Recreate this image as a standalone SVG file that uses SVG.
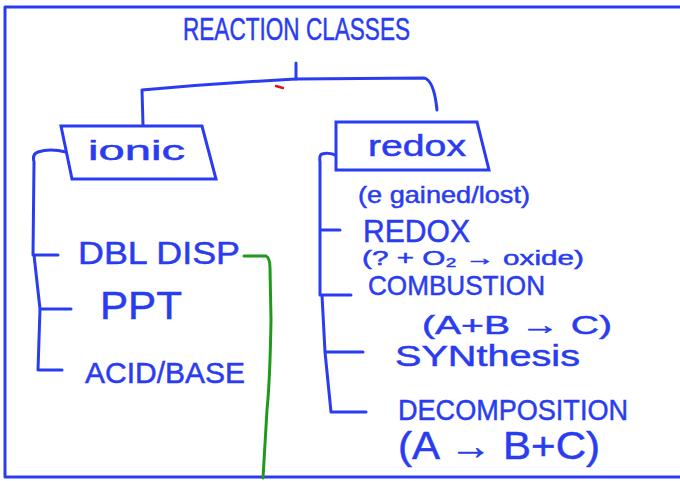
<svg xmlns="http://www.w3.org/2000/svg" width="680" height="481" viewBox="0 0 680 481">
  <style>
    .ink { fill: none; stroke: #2a3cf0; stroke-width: 3; stroke-linecap: round; stroke-linejoin: round; }
    .box { fill: #ffffff; stroke: #2a3cf0; stroke-width: 3; stroke-linejoin: miter; }
    .txt { font-family: "Liberation Sans", Arial, sans-serif; fill: #2a3cf0; stroke: #2a3cf0; stroke-width: 0.5; }
    .green { fill: none; stroke: #1f9a1f; stroke-width: 3; stroke-linecap: round; }
  </style>

  <rect width="680" height="481" fill="#ffffff"/>

  <!-- page frame -->
  <path class="ink" d="M682 7 L5 7 L5 477 L682 477"/>

  <g id="title">
    <text class="txt" x="183" y="40" font-size="32" textLength="227" lengthAdjust="spacingAndGlyphs">REACTION CLASSES</text>
  </g>

  <g id="connectors">
    <!-- trunk from title down to both classes -->
    <path class="ink" d="M296 63 L296 79"/>
    <path class="ink" d="M143 125 L142 90 Q220 83 296 79 L424 78 Q434 80 437 110"/>
    <path d="M276 86 L283 88" stroke="#d21a1a" stroke-width="2.5" stroke-linecap="round"/>
    <!-- ionic bracket -->
    <path class="ink" d="M66 152 Q50 148 38 152 Q32 154 34 162 L33 255 L58 255 M34 255 L40 309 L71 309 M40 309 L38 370 L62 370"/>
    <!-- redox bracket -->
    <path class="ink" d="M337 156 Q330 152 322 154 Q319 155 320 162 L320 295 L351 295 M320 230 L340 230 M322 295 L325 352 L363 352 M325 352 L331 412 L366 412"/>
    <!-- green link from DBL DISP -->
    <path class="green" d="M244 256 L266 256 Q270 258 270 268 L271 320 Q270 380 267 410 L263 478"/>
  </g>

  <g id="ionic">
    <path class="box" d="M61 126 L202 126 L216 179 L72 179 Z"/>
    <text class="txt" x="88" y="160" font-size="28" textLength="97" lengthAdjust="spacingAndGlyphs">ionic</text>
  </g>

  <g id="redox">
    <path class="box" d="M336 122 L477 122 L489 170 L336 170 Z"/>
    <text class="txt" x="368" y="156" font-size="30" textLength="98" lengthAdjust="spacingAndGlyphs">redox</text>
  </g>

  <g id="dbl-disp">
    <text class="txt" x="78" y="264" font-size="32" textLength="162" lengthAdjust="spacingAndGlyphs">DBL DISP</text>
  </g>
  <g id="ppt">
    <text class="txt" x="100" y="319" font-size="38" textLength="82" lengthAdjust="spacingAndGlyphs">PPT</text>
  </g>
  <g id="acid-base">
    <text class="txt" x="85" y="383" font-size="30" textLength="160" lengthAdjust="spacingAndGlyphs">ACID/BASE</text>
  </g>

  <g id="redox-note">
    <text class="txt" x="358" y="203" font-size="24" textLength="172" lengthAdjust="spacingAndGlyphs">(e gained/lost)</text>
  </g>
  <g id="redox-item">
    <text class="txt" x="363" y="242" font-size="32" textLength="107" lengthAdjust="spacingAndGlyphs">REDOX</text>
  </g>
  <g id="combustion">
    <text class="txt" x="362" y="265" font-size="21" textLength="222" lengthAdjust="spacingAndGlyphs">(? + O₂ → oxide)</text>
    <text class="txt" x="368" y="295" font-size="28" textLength="177" lengthAdjust="spacingAndGlyphs">COMBUSTION</text>
  </g>
  <g id="synthesis">
    <text class="txt" x="422" y="334" font-size="26" textLength="190" lengthAdjust="spacingAndGlyphs">(A+B → C)</text>
    <text class="txt" x="395" y="366" font-size="30" textLength="185" lengthAdjust="spacingAndGlyphs">SYNthesis</text>
  </g>
  <g id="decomposition">
    <text class="txt" x="398" y="420" font-size="30" textLength="230" lengthAdjust="spacingAndGlyphs">DECOMPOSITION</text>
    <text class="txt" x="398" y="459" font-size="38" textLength="202" lengthAdjust="spacingAndGlyphs">(A → B+C)</text>
  </g>
</svg>
